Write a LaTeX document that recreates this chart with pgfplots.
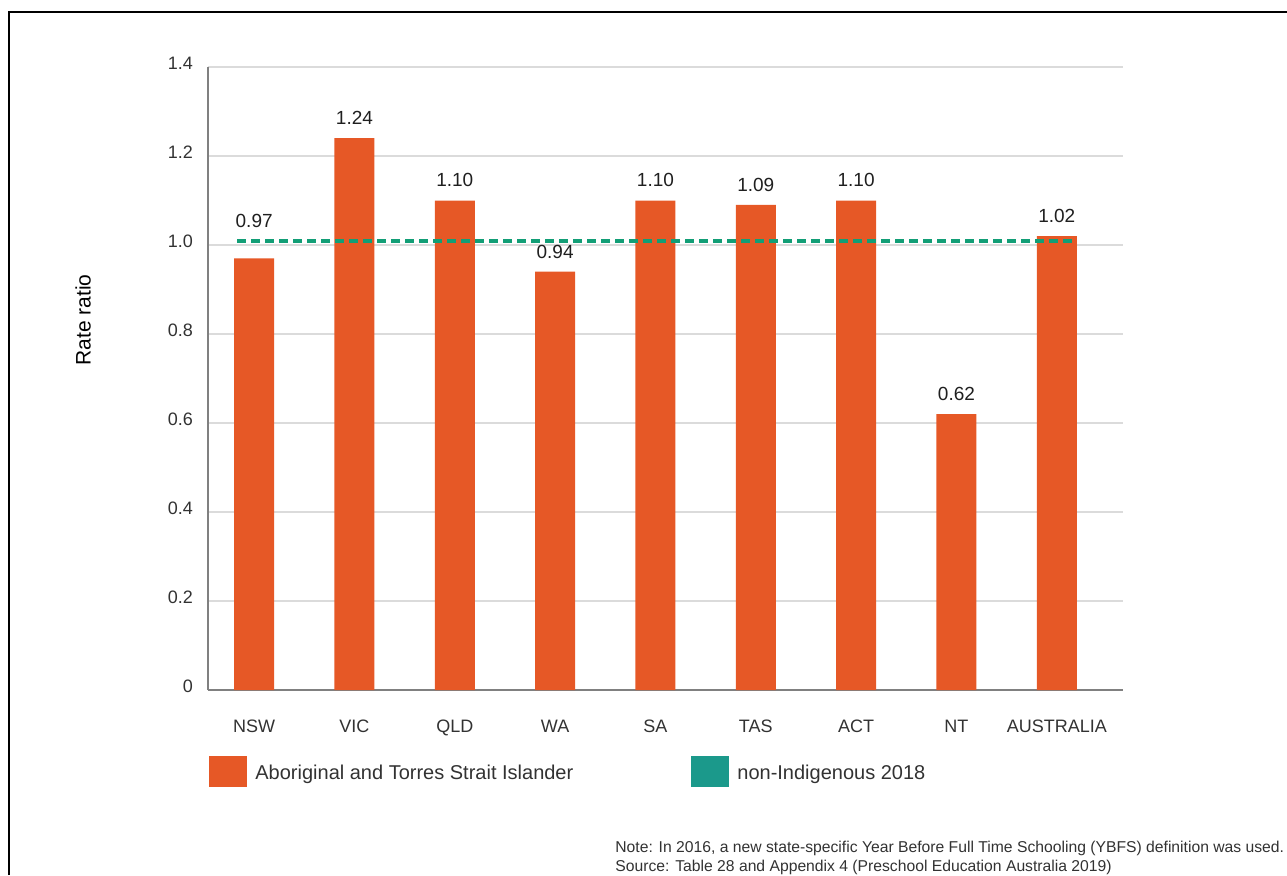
\documentclass[border=0pt]{standalone}
\usepackage{pgfplots}
\pgfplotsset{compat=1.18}
\usepackage{pgfplotstable}
\usepackage{fontspec}
\setmainfont{Liberation Sans}
\definecolor{barorange}{RGB}{230,88,38}
\definecolor{dashteal}{RGB}{18,158,118}
\definecolor{swatchteal}{RGB}{27,153,139}
\definecolor{ticktext}{RGB}{50,50,50}
\pgfplotstableread{
x y lab
0 0.97 0.97
1 1.24 1.24
2 1.10 1.10
3 0.94 0.94
4 1.10 1.10
5 1.09 1.09
6 1.10 1.10
7 0.62 0.62
8 1.02 1.02
}\ratedata
\pgfplotstableread{
x y
-0.17 1.01
8.18 1.01
}\nonind
\begin{document}
\begin{tikzpicture}
\begin{scope}[x=0.5pt,y=-0.5pt,shift={(-104pt,345pt)}]
\path[use as bounding box] (0,0) rectangle (1287,875);
\draw[black,line width=1pt] (9.5,875) -- (9.5,12.5) -- (1287,12.5);
\node[rotate=90,font=\fontsize{10.5}{12}\selectfont] at (83,320) {Rate ratio};
\fill[barorange] (209,756) rectangle (247,787);
\node[anchor=base west,inner sep=0pt,text=ticktext,font=\fontsize{10}{12}\selectfont] at (255,779) {Aboriginal and Torres Strait Islander};
\fill[swatchteal] (691,756) rectangle (729,787);
\node[anchor=base west,inner sep=0pt,text=ticktext,font=\fontsize{10}{12}\selectfont] at (737,779) {non-Indigenous 2018};
\node[anchor=base west,inner sep=0pt,text=ticktext,font=\fontsize{7.85}{9}\selectfont] at (615,852) {Note: In 2016, a new state-specific Year Before Full Time Schooling (YBFS) definition was used.};
\node[anchor=base west,inner sep=0pt,text=ticktext,font=\fontsize{7.85}{9}\selectfont] at (615,871) {Source: Table 28 and Appendix 4 (Preschool Education Australia 2019)};
\end{scope}
\begin{axis}[
  at={(0,0)}, anchor=south west,
  scale only axis, width=457.5pt, height=311.5pt,
  xmin=-0.46, xmax=8.66, ymin=0, ymax=1.4,
  axis x line*=bottom, axis y line*=left,
  axis line style={draw=black!50,line width=0.75pt,-},
  xtick={0,...,8},
  xticklabels={NSW,VIC,QLD,WA,SA,TAS,ACT,NT,AUSTRALIA},
  ytick={0,0.2,0.4,0.6,0.8,1.0,1.2,1.4},
  yticklabels={0,0.2,0.4,0.6,0.8,1.0,1.2,1.4},
  /pgf/number format/assume math mode=true,
  major tick length=0pt,
  ymajorgrids, grid style={draw=black!14,line width=0.6pt},
  tick label style={font=\fontsize{9}{11}\selectfont,text=ticktext},
  yticklabel style={xshift=-4pt,yshift=2pt},
  xticklabel style={yshift=-11.5pt},
  clip=false,
]
\addplot[ybar,bar width=20pt,fill=barorange,draw=none,
  point meta=explicit symbolic,
  nodes near coords,
  every node near coord/.append style={font=\fontsize{9.5}{11}\selectfont,text=black!88,inner sep=2.5pt,yshift=4pt},
  coordinate style/.condition={x<0.5}{yshift=8.5pt}]
  table[x=x,y=y,meta=lab]{\ratedata};
\addplot[dashteal,line width=2pt,dash pattern=on 4.5pt off 2.5pt] table[x=x,y=y]{\nonind};
\end{axis}
\end{tikzpicture}
\end{document}
